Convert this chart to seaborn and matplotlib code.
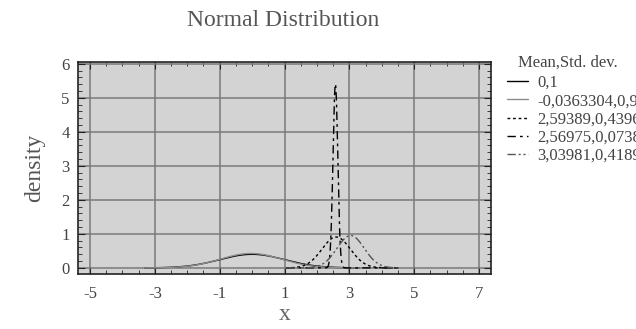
import numpy as np
import pandas as pd
import matplotlib
matplotlib.use("Agg")
import matplotlib.pyplot as plt
from matplotlib.ticker import MultipleLocator
import seaborn as sns

# legend parameters (mean, std. dev.)
means = [0.0, -0.0363304, 2.59389, 2.56975, 3.03981]
stds = [1.0, 0.94, 0.4396, 0.0738, 0.4189]
labels = ["0,1", "-0,0363304,0,94", "2,59389,0,4396", "2,56975,0,0738", "3,03981,0,4189"]
x_ranges = [(-3.3, 3.3), (-3.3, 3.3), (1.05, 4.55), (1.05, 4.55), (1.05, 4.55)]
colors = ["black", "#8c8c8c", "black", "black", "#555555"]
styles = ["-", "-", (0, (2, 2)), (0, (6, 3, 2, 3)), (0, (6, 2, 1.5, 2, 1.5, 2))]

xticks = [-5, -3, -1, 1, 3, 5, 7]
yticks = [0, 1, 2, 3, 4, 5, 6]

sns.set_style("ticks")
plt.rcParams["font.family"] = ["Liberation Serif", "DejaVu Serif"]
plt.rcParams["axes.unicode_minus"] = False

fig = plt.figure(figsize=(6.36, 3.29), dpi=100)
ax = fig.add_axes([78 / 636, 1 - 274 / 329, (491 - 78) / 636, (274 - 62) / 329])
ax.set_facecolor("#d3d3d3")

for m, s, lab, (a, b), c, ls in zip(means, stds, labels, x_ranges, colors, styles):
    xs = np.linspace(a, b, 400)
    ys = np.exp(-0.5 * ((xs - m) / s) ** 2) / (s * np.sqrt(2 * np.pi))
    df = pd.DataFrame({"x": xs, "density": ys})
    sns.lineplot(data=df, x="x", y="density", ax=ax, color=c, linestyle=ls,
                 linewidth=1.0, label=lab)

ax.set_xlim(-5.37, 7.37)
ax.set_ylim(-0.18, 6.05)
ax.set_xticks(xticks)
ax.set_yticks(yticks)
ax.xaxis.set_minor_locator(MultipleLocator(0.5))
ax.yaxis.set_minor_locator(MultipleLocator(0.2))
ax.tick_params(which="both", direction="in", top=True, right=True, color="#222222")
ax.tick_params(which="major", length=5, labelsize=12, labelcolor="#444444")
ax.tick_params(axis="x", which="major", pad=9)
ax.tick_params(axis="y", which="major", pad=6)
ax.tick_params(which="minor", length=3)
ax.grid(True, which="major", color="#7a7a7a", linewidth=1.1)
for sp in ax.spines.values():
    sp.set_color("#222222")
    sp.set_linewidth(1.2)

ax.set_xlabel("x", fontsize=17, color="#666666", labelpad=1)
ax.set_ylabel("density", fontsize=17, color="#555555", labelpad=12)
fig.text(283 / 636, 1 - 21 / 329, "Normal Distribution", ha="center", va="center",
         fontsize=17, color="#555555")

# legend title drawn as its own text, indented like the original
fig.text(518 / 636, 1 - 63 / 329, "Mean,Std. dev.", ha="left", va="center",
         fontsize=12, color="#444444")
leg = ax.legend(loc="upper left", bbox_to_anchor=(507 / 636, 1 - 75 / 329),
                bbox_transform=fig.transFigure, frameon=False,
                fontsize=12, handlelength=1.26, handletextpad=0.54,
                labelspacing=0.13, borderaxespad=0, borderpad=0)
for t in leg.get_texts():
    t.set_color("#444444")

fig.savefig("out.png", dpi=100)
